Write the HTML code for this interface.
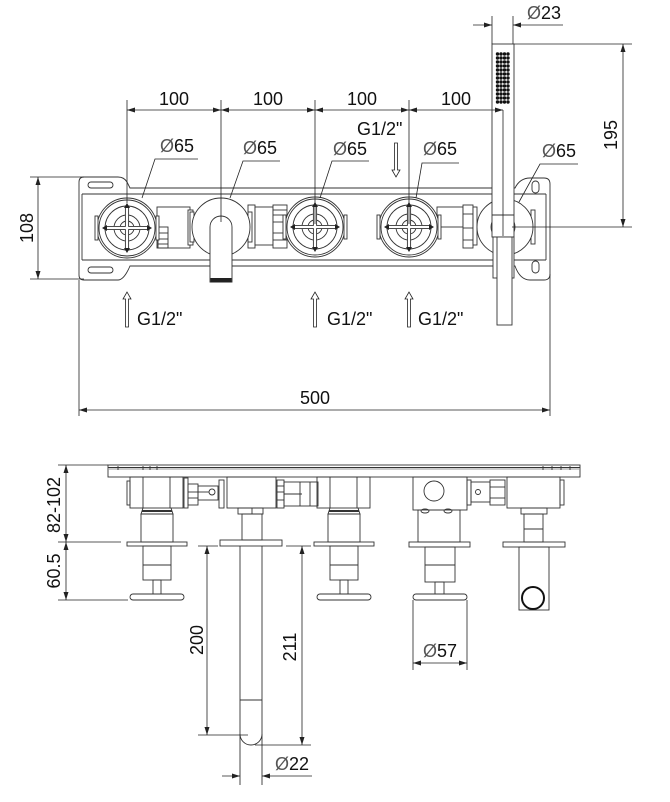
<!DOCTYPE html>
<html><head><meta charset="utf-8"><style>
html,body{margin:0;padding:0;background:#fff;}
svg{display:block;}
text{font-family:"Liberation Sans",Arial,sans-serif;fill:#111;font-size:18px;}
</style></head><body>
<svg width="670" height="802" viewBox="0 0 670 802" xmlns="http://www.w3.org/2000/svg">
<defs>
<g id="valve">
  <circle cx="0" cy="0" r="30" fill="#fff"/>
  <circle cx="0" cy="0" r="28"/>
  <circle cx="0" cy="0" r="22"/>
  <circle cx="0" cy="0" r="13"/>
  <circle cx="0" cy="0" r="7"/>
  <path d="M-1.6,-22 L1.6,-22 L1.6,-1.6 L22,-1.6 L22,1.6 L1.6,1.6 L1.6,22 L-1.6,22 L-1.6,1.6 L-22,1.6 L-22,-1.6 L-1.6,-1.6 Z" fill="#fff"/>
  <polygon points="0,-25 -3,-20 3,-20" fill="#222" stroke="none"/>
  <polygon points="0,25 -3,20 3,20" fill="#222" stroke="none"/>
  <polygon points="-25,0 -20,-3 -20,3" fill="#222" stroke="none"/>
  <polygon points="25,0 20,-3 20,3" fill="#222" stroke="none"/>
  <rect x="-32" y="-12" width="3" height="24" fill="#fff"/>
  <rect x="29" y="-12" width="3" height="24" fill="#fff"/>
</g>
<g id="dotrow">
  <circle cx="497.5" cy="0" r="1.7"/><circle cx="501" cy="0" r="1.7"/><circle cx="504.5" cy="0" r="1.7"/><circle cx="508" cy="0" r="1.7"/>
</g>
</defs>

<g fill="none" stroke="#333" stroke-width="0.9">
<!-- ===== TOP VIEW PLATE ===== -->
<path d="M84,177 L118,177 Q124,177 127,182 L130,188 L515,188 Q520,178 530,178 L544,178 Q550,178 550,184 L550,274 Q550,280 544,280 L530,280 Q520,280 515,266 L130,266 Q124,280 118,280 L84,280 Q79,280 79,275 L79,182 Q79,177 84,177 Z" fill="#fff"/>
<line x1="82" y1="194" x2="546" y2="194"/>
<line x1="82" y1="260" x2="546" y2="260"/>
<line x1="82" y1="194" x2="82" y2="260"/>
<line x1="546" y1="194" x2="546" y2="260"/>
<rect x="88" y="182" width="25" height="6" rx="3"/>
<rect x="88" y="267" width="25" height="6" rx="3"/>
<rect x="532" y="181" width="7" height="12" rx="3.5"/>
<rect x="532" y="261" width="7" height="12" rx="3.5"/>

<!-- connectors top view -->
<rect x="157" y="207" width="33" height="41" fill="#fff"/>
<rect x="158" y="227" width="10" height="21"/>
<line x1="158" y1="233" x2="168" y2="233"/><line x1="158" y1="239" x2="168" y2="239"/><line x1="158" y1="244" x2="168" y2="244"/>
<rect x="188" y="210" width="5" height="35" fill="#fff"/>
<rect x="248" y="205" width="7" height="43" fill="#fff"/>
<rect x="255" y="207" width="18" height="38" fill="#fff"/>
<rect x="273" y="205" width="14" height="43" fill="#fff"/>
<line x1="273" y1="210" x2="287" y2="210"/><line x1="273" y1="215" x2="287" y2="215"/><line x1="273" y1="222" x2="287" y2="222"/><line x1="273" y1="233" x2="287" y2="233"/><line x1="273" y1="240" x2="287" y2="240"/>
<rect x="437" y="207" width="26" height="20" fill="#fff"/>
<rect x="463" y="205" width="10" height="43" fill="#fff"/>
<line x1="463" y1="214" x2="473" y2="214"/><line x1="463" y1="228" x2="473" y2="228"/><line x1="463" y1="240" x2="473" y2="240"/>
<rect x="473" y="207" width="4" height="38" fill="#fff"/>

<!-- valves -->
<use href="#valve" x="127" y="228"/>
<use href="#valve" x="315" y="227"/>
<use href="#valve" x="409" y="227"/>

<!-- lever mixer -->
<rect x="190" y="212" width="4" height="30" fill="#fff"/>
<rect x="248" y="212" width="4" height="30" fill="#fff"/>
<circle cx="221" cy="227" r="29" fill="#fff"/>
<path d="M210,282 L210,227 A11,11 0 0 1 232,227 L232,282 Z" fill="#fff"/>
<rect x="210.5" y="278" width="21" height="4.5" fill="#222" stroke="none"/>

<!-- hand shower holder -->
<rect x="531" y="210" width="4" height="34" fill="#fff"/>
<circle cx="505" cy="227" r="28" fill="#fff"/>
<ellipse cx="503" cy="227" rx="12" ry="12" fill="#fff"/>
<rect x="492" y="44" width="22" height="193" fill="#fff"/>
<line x1="492" y1="215" x2="514" y2="215"/>
<rect x="493" y="237" width="21" height="41" fill="#fff"/>
<rect x="497" y="237" width="15" height="88" fill="#fff"/>
</g>

<!-- shower dots -->
<g fill="#111">
<use href="#dotrow" y="54"/><use href="#dotrow" y="58"/><use href="#dotrow" y="62"/><use href="#dotrow" y="66"/>
<use href="#dotrow" y="70"/><use href="#dotrow" y="74"/><use href="#dotrow" y="78"/><use href="#dotrow" y="82"/>
<use href="#dotrow" y="86"/><use href="#dotrow" y="90"/><use href="#dotrow" y="94"/><use href="#dotrow" y="98"/>
<use href="#dotrow" y="102"/>
</g>

<!-- ===== TOP VIEW DIMENSIONS ===== -->
<g fill="none" stroke="#222" stroke-width="0.8">
<line x1="127" y1="100" x2="127" y2="203"/>
<line x1="221" y1="100" x2="221" y2="222"/>
<line x1="315" y1="100" x2="315" y2="224"/>
<line x1="409" y1="100" x2="409" y2="224"/>
<line x1="503" y1="110" x2="503" y2="236"/>
<line x1="127" y1="110" x2="503" y2="110"/>
<!-- leaders -->
<polyline points="198,159 155,159 142,198"/>
<polyline points="280,161 243,161 230,198"/>
<polyline points="369,161 332,161 320,198"/>
<polyline points="459,163 422,163 416,198"/>
<polyline points="578,164 540,164 519,202"/>
<!-- 108 -->
<line x1="30" y1="177" x2="84" y2="177"/>
<line x1="30" y1="279" x2="84" y2="279"/>
<line x1="38" y1="177" x2="38" y2="279"/>
<!-- 500 -->
<line x1="79" y1="280" x2="79" y2="416"/>
<line x1="550" y1="274" x2="550" y2="416"/>
<line x1="79" y1="410" x2="550" y2="410"/>
<!-- 23 -->
<line x1="492" y1="16" x2="492" y2="44"/>
<line x1="513" y1="16" x2="513" y2="44"/>
<line x1="473" y1="25" x2="492" y2="25"/>
<line x1="513" y1="25" x2="563" y2="25"/>
<!-- 195 -->
<line x1="514" y1="44" x2="632" y2="44"/>
<line x1="512" y1="227" x2="632" y2="227"/>
<line x1="623" y1="44" x2="623" y2="227"/>
<!-- G1/2 arrows -->
<path d="M394.5,143 L394.5,170 L392,170 L396,177 L400,170 L397.5,170 L397.5,143 Z"/>
<path d="M125.5,327 L125.5,299 L123,299 L127,292 L131,299 L128.5,299 L128.5,327 Z"/>
<path d="M313.5,327 L313.5,299 L311,299 L315,292 L319,299 L316.5,299 L316.5,327 Z"/>
<path d="M407.5,327 L407.5,299 L405,299 L409,292 L413,299 L410.5,299 L410.5,327 Z"/>
</g>
<g fill="#222" stroke="none">
<polygon points="127,110 135,107.5 135,112.5"/>
<polygon points="221,110 213,107.5 213,112.5"/><polygon points="221,110 229,107.5 229,112.5"/>
<polygon points="315,110 307,107.5 307,112.5"/><polygon points="315,110 323,107.5 323,112.5"/>
<polygon points="409,110 401,107.5 401,112.5"/><polygon points="409,110 417,107.5 417,112.5"/>
<polygon points="503,110 495,107.5 495,112.5"/>
<polygon points="38,177 35.5,185 40.5,185"/><polygon points="38,279 35.5,271 40.5,271"/>
<polygon points="79,410 87,407.5 87,412.5"/><polygon points="550,410 542,407.5 542,412.5"/>
<polygon points="492,25 484,22.5 484,27.5"/><polygon points="513,25 521,22.5 521,27.5"/>
<polygon points="623,44 620.5,52 625.5,52"/><polygon points="623,227 620.5,219 625.5,219"/>
</g>

<!-- top texts -->
<text x="174" y="105" text-anchor="middle">100</text>
<text x="268" y="105" text-anchor="middle">100</text>
<text x="362" y="105" text-anchor="middle">100</text>
<text x="456" y="105" text-anchor="middle">100</text>
<text x="160" y="152"><tspan fill="#555">Ø</tspan>65</text>
<text x="243" y="154"><tspan fill="#555">Ø</tspan>65</text>
<text x="333" y="155"><tspan fill="#555">Ø</tspan>65</text>
<text x="423" y="155"><tspan fill="#555">Ø</tspan>65</text>
<text x="542" y="157"><tspan fill="#555">Ø</tspan>65</text>
<text x="527" y="19"><tspan fill="#555">Ø</tspan>23</text>
<text x="357" y="135">G1/2"</text>
<text x="137" y="325">G1/2"</text>
<text x="327" y="325">G1/2"</text>
<text x="418" y="325">G1/2"</text>
<text x="315" y="404" text-anchor="middle">500</text>
<text transform="translate(33,228) rotate(-90)" text-anchor="middle">108</text>
<text transform="translate(617,135) rotate(-90)" text-anchor="middle">195</text>

<!-- ===== BOTTOM VIEW ===== -->
<g fill="none" stroke="#333" stroke-width="0.9">
<!-- plate -->
<rect x="108" y="465" width="472" height="12" fill="#fff"/>
<line x1="108" y1="467.5" x2="580" y2="467.5"/>
<line x1="108" y1="469" x2="580" y2="469" stroke="#999"/>
<line x1="118" y1="466" x2="118" y2="470"/><line x1="143" y1="466" x2="143" y2="470"/><line x1="150" y1="466" x2="150" y2="470"/><line x1="157" y1="466" x2="157" y2="470"/>
<line x1="543" y1="466" x2="543" y2="470"/><line x1="552" y1="466" x2="552" y2="470"/><line x1="561" y1="466" x2="561" y2="470"/><line x1="570" y1="466" x2="570" y2="470"/>

<!-- unit 1 -->
<rect x="130" y="477" width="53" height="31"/>
<line x1="143" y1="477" x2="143" y2="508"/><line x1="170" y1="477" x2="170" y2="508"/>
<rect x="127" y="481" width="3" height="24"/>
<path d="M143,508 L141,514 L173,514 L171,508"/>
<line x1="142" y1="511" x2="172" y2="511" stroke-width="2"/>
<rect x="141" y="514" width="32" height="28"/>
<rect x="127" y="542" width="60" height="4"/>
<rect x="143" y="546" width="28" height="34"/>
<line x1="143" y1="565" x2="171" y2="565"/>
<rect x="153" y="580" width="8" height="14"/>
<rect x="130" y="594" width="54" height="6" rx="3"/>

<!-- unit 3 -->
<g transform="translate(187,0)">
<rect x="130" y="477" width="53" height="31"/>
<line x1="143" y1="477" x2="143" y2="508"/><line x1="170" y1="477" x2="170" y2="508"/>
<path d="M143,508 L141,514 L173,514 L171,508"/>
<line x1="142" y1="511" x2="172" y2="511" stroke-width="2"/>
<rect x="141" y="514" width="32" height="28"/>
<rect x="127" y="542" width="60" height="4"/>
<rect x="143" y="546" width="28" height="34"/>
<line x1="143" y1="565" x2="171" y2="565"/>
<rect x="153" y="580" width="8" height="14"/>
<rect x="130" y="594" width="54" height="6" rx="3"/>
</g>

<!-- connector 1-2 -->
<rect x="184" y="478" width="4" height="30"/>
<rect x="188" y="484" width="10" height="21"/>
<line x1="188" y1="492" x2="198" y2="492"/><line x1="188" y1="498" x2="198" y2="498"/>
<rect x="198" y="486" width="20" height="14"/>
<line x1="198" y1="492" x2="209" y2="492"/>
<circle cx="212" cy="492" r="3"/>
<rect x="219" y="480" width="5" height="28"/>

<!-- lever unit -->
<rect x="227" y="477" width="49" height="31"/>
<rect x="238" y="508" width="25" height="6"/>
<rect x="242" y="514" width="20" height="26"/>
<line x1="252" y1="508" x2="252" y2="514"/>
<rect x="220" y="540" width="62" height="6"/>
<line x1="240" y1="546" x2="240" y2="785"/>
<line x1="262" y1="546" x2="262" y2="785"/>
<line x1="240" y1="700" x2="262" y2="700"/>
<path d="M240,734 A11,11 0 0 0 262,734"/>

<!-- connector 2-3 -->
<rect x="277" y="480" width="7" height="28"/>
<line x1="277" y1="486" x2="284" y2="486"/><line x1="277" y1="492" x2="284" y2="492"/><line x1="277" y1="500" x2="284" y2="500"/>
<rect x="284" y="482" width="34" height="24"/>
<line x1="284" y1="494" x2="302" y2="494"/>
<line x1="300" y1="482" x2="300" y2="506"/>
<line x1="310" y1="482" x2="310" y2="506"/>

<!-- unit 4 -->
<rect x="413" y="477" width="54" height="33"/>
<circle cx="434" cy="491" r="10"/>
<ellipse cx="425" cy="511" rx="4" ry="2" fill="#fff"/>
<ellipse cx="448" cy="511" rx="4" ry="2" fill="#fff"/>
<rect x="418" y="510" width="42" height="32"/>
<rect x="409" y="542" width="61" height="5"/>
<rect x="425" y="547" width="30" height="35"/>
<line x1="425" y1="565" x2="455" y2="565"/>
<rect x="435" y="582" width="9" height="12"/>
<rect x="413" y="594" width="54" height="6" rx="3"/>

<!-- connector 4-5 -->
<rect x="467" y="480" width="4" height="25"/>
<rect x="471" y="482" width="19" height="20"/>
<circle cx="478" cy="492" r="2.5"/>
<rect x="490" y="480" width="15" height="25"/>
<line x1="490" y1="487" x2="505" y2="487"/><line x1="490" y1="498" x2="505" y2="498"/>

<!-- unit 5 -->
<rect x="507" y="477" width="53" height="31"/>
<rect x="560" y="480" width="4" height="25"/>
<rect x="521" y="508" width="26" height="6"/>
<rect x="524" y="514" width="19" height="28"/>
<line x1="524" y1="529" x2="543" y2="529"/>
<rect x="503" y="542" width="62" height="5"/>
<rect x="519" y="547" width="30" height="63"/>
<circle cx="533" cy="598" r="11" stroke="#111" stroke-width="2"/>
</g>

<!-- bottom dimensions -->
<g fill="none" stroke="#222" stroke-width="0.8">
<line x1="58" y1="465" x2="108" y2="465"/>
<line x1="58" y1="542" x2="121" y2="542"/>
<line x1="58" y1="600" x2="128" y2="600"/>
<line x1="66" y1="465" x2="66" y2="600"/>
<line x1="198" y1="546" x2="218" y2="546"/>
<line x1="207" y1="546" x2="207" y2="735"/>
<line x1="198" y1="735" x2="248" y2="735"/>
<line x1="286" y1="546" x2="311" y2="546"/>
<line x1="302" y1="546" x2="302" y2="745"/>
<line x1="255" y1="745" x2="311" y2="745"/>
<line x1="222" y1="776" x2="240" y2="776"/>
<line x1="262" y1="776" x2="312" y2="776"/>
<line x1="413" y1="600" x2="413" y2="670"/>
<line x1="467" y1="600" x2="467" y2="670"/>
<line x1="413" y1="663" x2="467" y2="663"/>
</g>
<g fill="#222" stroke="none">
<polygon points="66,465 63.5,473 68.5,473"/><polygon points="66,542 63.5,534 68.5,534"/>
<polygon points="66,542 63.5,550 68.5,550"/><polygon points="66,600 63.5,592 68.5,592"/>
<polygon points="207,546 204.5,554 209.5,554"/><polygon points="207,735 204.5,727 209.5,727"/>
<polygon points="302,546 299.5,554 304.5,554"/><polygon points="302,745 299.5,737 304.5,737"/>
<polygon points="240,776 232,773.5 232,778.5"/><polygon points="262,776 270,773.5 270,778.5"/>
<polygon points="413,663 421,660.5 421,665.5"/><polygon points="467,663 459,660.5 459,665.5"/>
</g>
<text transform="translate(60,505) rotate(-90)" text-anchor="middle">82-102</text>
<text transform="translate(60,571) rotate(-90)" text-anchor="middle">60.5</text>
<text transform="translate(203,640) rotate(-90)" text-anchor="middle">200</text>
<text transform="translate(296,647) rotate(-90)" text-anchor="middle">211</text>
<text x="275" y="770"><tspan fill="#555">Ø</tspan>22</text>
<text x="423" y="657"><tspan fill="#555">Ø</tspan>57</text>
</svg>
</body></html>
